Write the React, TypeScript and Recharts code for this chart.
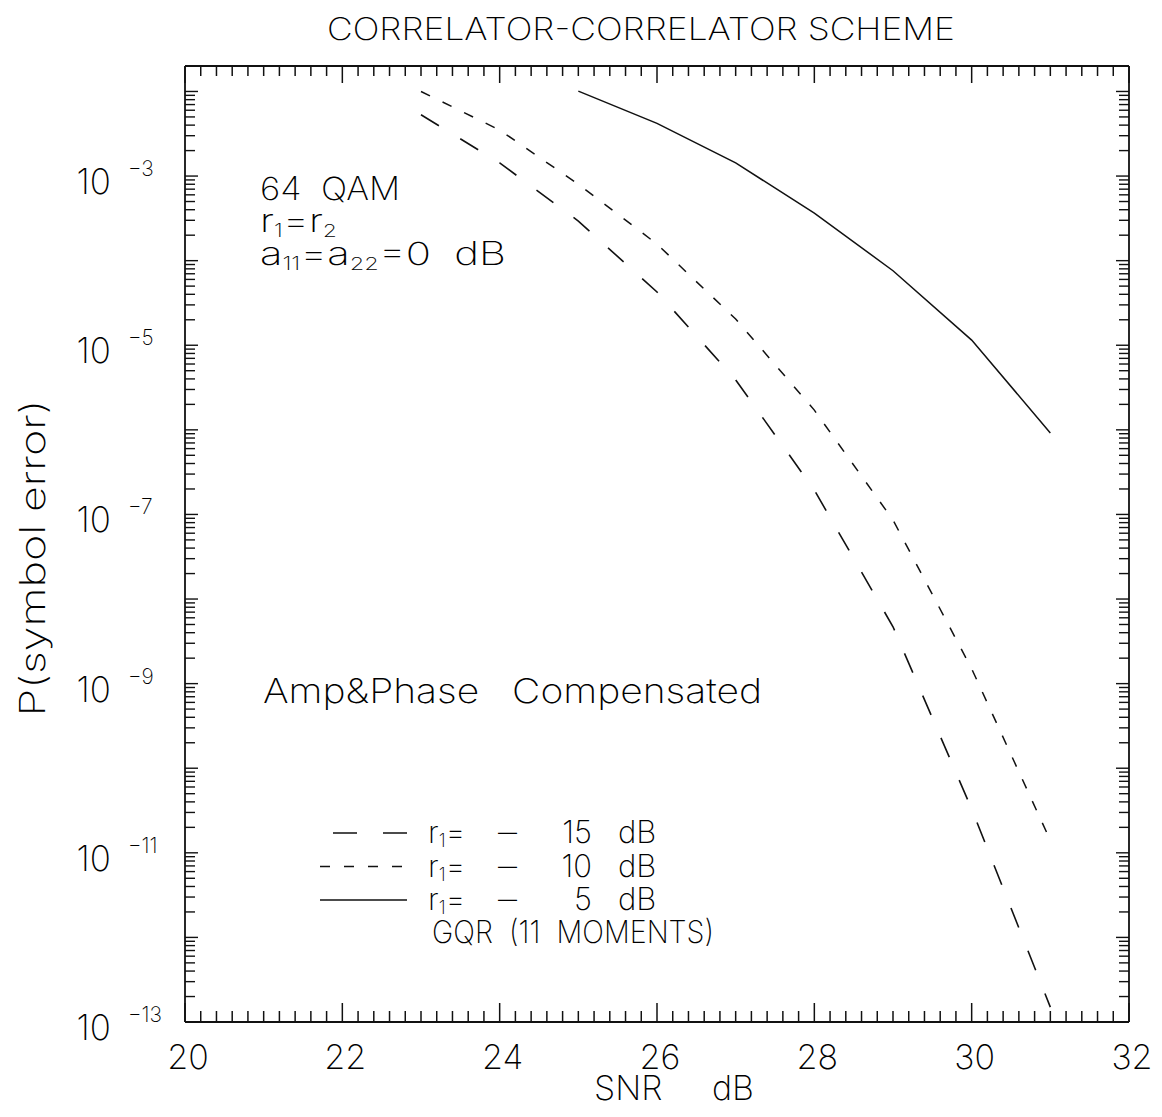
import React from 'react';
import { LineChart, Line, XAxis, YAxis } from 'recharts';

// ---------- data ----------
const SNR_DB = [23, 24, 25, 26, 27, 28, 29, 30, 31];
const R1_MINUS15 = [5.3e-3, 1.43e-3, 2.94e-4, 4.26e-5, 3.9e-6, 1.94e-7, 4.7e-9, 3.3e-11, 1.5e-13];
const R1_MINUS10 = [1.0e-2, 3.5e-3, 8.0e-4, 1.57e-4, 2.04e-5, 1.71e-6, 8.6e-8, 1.5e-9, 1.4e-11];
const R1_MINUS5 = [null, null, 1.01e-2, 4.2e-3, 1.43e-3, 3.65e-4, 7.6e-5, 1.15e-5, 9.2e-7];

const X_LABELS = [20, 22, 24, 26, 28, 30, 32];
const Y_LABEL_EXPONENTS = [-3, -5, -7, -9, -11, -13];
const Y_DECADES = [-13, -12, -11, -10, -9, -8, -7, -6, -5, -4, -3, -2];
const X_DOMAIN: [number, number] = [20, 32];
const Y_DOMAIN: [number, number] = [1e-13, 2e-2];
const LEGEND_ROWS = [
  { key: 'r15', value: '15', dash: '24 26' },
  { key: 'r10', value: '10', dash: '10 14' },
  { key: 'r5', value: '5', dash: undefined },
];

const data = SNR_DB.map((s, i) => ({ snr: s, r15: R1_MINUS15[i], r10: R1_MINUS10[i], r5: R1_MINUS5[i] }));

const X_TICKS: number[] = [];
for (let i = 0; i <= 60; i++) X_TICKS.push(Math.round((20 + i * 0.2) * 10) / 10);
const Y_TICKS: number[] = [];
Y_DECADES.forEach((d) => {
  for (let k = 1; k <= 9; k++) {
    const v = Number(`${k}e${d}`);
    if (v <= Y_DOMAIN[1]) Y_TICKS.push(v);
  }
});

// ---------- layout ----------
const W = 1162;
const H = 1117;
const M = { top: 65, left: 184, right: 32, bottom: 94 };
const FONT = "Inter, 'DejaVu Sans', sans-serif";
const FW = 200;
const STROKE = '#111';

const isDecade = (v: number) => {
  const l = Math.log10(v);
  return Math.abs(l - Math.round(l)) < 1e-9;
};
const isXMajor = (v: number) => X_LABELS.includes(v);

const BottomTick = (p: any) => {
  const { x, y, payload } = p;
  const v = payload.value;
  const major = isXMajor(v);
  return (
    <g>
      <line x1={x} y1={y} x2={x} y2={y - (major ? 19 : 11)} stroke={STROKE} strokeWidth={1.5} />
      {major && (
        <text x={x + 3} y={y + 47} textAnchor="middle" fontFamily={FONT} fontWeight={FW} fontSize={34} fill="#000">
          {v}
        </text>
      )}
    </g>
  );
};

const TopTick = (p: any) => {
  const { x, y, payload } = p;
  const major = isXMajor(payload.value);
  return <line x1={x} y1={y} x2={x} y2={y + (major ? 17 : 10)} stroke={STROKE} strokeWidth={1.5} />;
};

const LeftTick = (p: any) => {
  const { x, y, payload } = p;
  const v = payload.value;
  const dec = isDecade(v);
  const e = Math.round(Math.log10(v));
  const showLabel = dec && Y_LABEL_EXPONENTS.includes(e);
  return (
    <g>
      <line x1={x} y1={y} x2={x + (dec ? 13 : 10)} y2={y} stroke={STROKE} strokeWidth={1.4} />
      {showLabel && (
        <g>
          <text x={111} y={y + 18} textAnchor="end" fontFamily={FONT} fontWeight={FW} fontSize={35} fill="#000">
            10
          </text>
          <text x={128} y={y} textAnchor="start" fontFamily={FONT} fontWeight={FW} fontSize={21} fill="#000">
            {`\u2212${Math.abs(e)}`}
          </text>
        </g>
      )}
    </g>
  );
};

const RightTick = (p: any) => {
  const { x, y, payload } = p;
  const dec = isDecade(payload.value);
  return <line x1={x} y1={y} x2={x - (dec ? 13 : 10)} y2={y} stroke={STROKE} strokeWidth={1.4} />;
};

const T = (props: any) => (
  <text fontFamily={FONT} fontWeight={FW} fill="#000" {...props} />
);

const Overlay = () => (
  <svg width={W} height={H} style={{ position: 'absolute', left: 0, top: 0, pointerEvents: 'none' }}>
    <T x={641} y={40} fontSize={31} textAnchor="middle" textLength={628} lengthAdjust="spacingAndGlyphs">
      CORRELATOR-CORRELATOR SCHEME
    </T>
    <T x={45} y={558} fontSize={35} textAnchor="middle" transform="rotate(-90 45 558)" textLength={317} lengthAdjust="spacingAndGlyphs">
      P(symbol error)
    </T>
    <T y={1100} fontSize={34}>
      <tspan x={594}>SNR</tspan>
      <tspan x={712}>dB</tspan>
    </T>

    <T x={260} y={200} fontSize={32} xmlSpace="preserve" textLength={140} lengthAdjust="spacingAndGlyphs">64  QAM</T>
    <T x={260} y={232} fontSize={32} textLength={77} lengthAdjust="spacingAndGlyphs">
      r<tspan fontSize={18} dy={5}>1</tspan>
      <tspan dy={-5}>=r</tspan>
      <tspan fontSize={18} dy={5}>2</tspan>
    </T>
    <T x={260} y={265} fontSize={32} xmlSpace="preserve" textLength={246} lengthAdjust="spacingAndGlyphs">
      a<tspan fontSize={18} dy={5}>11</tspan>
      <tspan dy={-5}>=a</tspan>
      <tspan fontSize={18} dy={5}>22</tspan>
      <tspan dy={-5}>=0  dB</tspan>
    </T>

    <T x={263} y={703} fontSize={34} xmlSpace="preserve" textLength={499} lengthAdjust="spacingAndGlyphs">
      Amp&amp;Phase   Compensated
    </T>

    {/* legend */}
    {LEGEND_ROWS.map((r, i) => {
      const base = 843 + i * 33.5;
      return (
        <g key={r.key}>
          <line x1={i === 0 ? 333 : 320} y1={base - 10} x2={407} y2={base - 10} stroke={STROKE} strokeWidth={1.6} strokeDasharray={r.dash} />
          <T x={428} y={base} fontSize={31}>
            r<tspan fontSize={18} dy={4}>1</tspan>
            <tspan dy={-4}>=</tspan>
          </T>
          <T x={498} y={base} fontSize={31} textLength={19} lengthAdjust="spacingAndGlyphs">{'\u2013'}</T>
          <T x={592} y={base} fontSize={31} textAnchor="end">{r.value}</T>
          <T x={618} y={base} fontSize={31}>dB</T>
        </g>
      );
    })}
    <T x={432} y={943} fontSize={31} xmlSpace="preserve" textLength={282} lengthAdjust="spacingAndGlyphs">GQR  (11  MOMENTS)</T>
  </svg>
);

export default function App() {
  return (
    <div style={{ position: 'absolute', left: 0, top: 0, width: W, height: H, background: '#fff' }}>
      <LineChart width={W} height={H} data={data} margin={M}>
        <XAxis xAxisId="b" dataKey="snr" type="number" domain={X_DOMAIN} allowDataOverflow ticks={X_TICKS} interval={0}
          height={1} tickSize={0} tickMargin={0} tickLine={false} axisLine={{ stroke: STROKE, strokeWidth: 1.8 }} tick={BottomTick} orientation="bottom" />
        <XAxis xAxisId="t" dataKey="snr" type="number" domain={X_DOMAIN} allowDataOverflow ticks={X_TICKS} interval={0}
          height={1} tickSize={0} tickMargin={0} tickLine={false} axisLine={{ stroke: STROKE, strokeWidth: 1.8 }} tick={TopTick} orientation="top" />
        <YAxis yAxisId="l" type="number" scale="log" domain={Y_DOMAIN} allowDataOverflow ticks={Y_TICKS} interval={0}
          width={1} tickSize={0} tickMargin={0} tickLine={false} axisLine={{ stroke: STROKE, strokeWidth: 1.8 }} tick={LeftTick} orientation="left" />
        <YAxis yAxisId="r" type="number" scale="log" domain={Y_DOMAIN} allowDataOverflow ticks={Y_TICKS} interval={0}
          width={1} tickSize={0} tickMargin={0} tickLine={false} axisLine={{ stroke: STROKE, strokeWidth: 1.8 }} tick={RightTick} orientation="right" />
        <Line xAxisId="b" yAxisId="l" type="linear" dataKey="r15" stroke={STROKE} strokeWidth={1.6} strokeDasharray="21 25" dot={false} isAnimationActive={false} />
        <Line xAxisId="b" yAxisId="l" type="linear" dataKey="r10" stroke={STROKE} strokeWidth={1.5} strokeDasharray="10 14" dot={false} isAnimationActive={false} />
        <Line xAxisId="b" yAxisId="l" type="linear" dataKey="r5" stroke={STROKE} strokeWidth={1.5} dot={false} isAnimationActive={false} />
      </LineChart>
      <Overlay />
    </div>
  );
}
